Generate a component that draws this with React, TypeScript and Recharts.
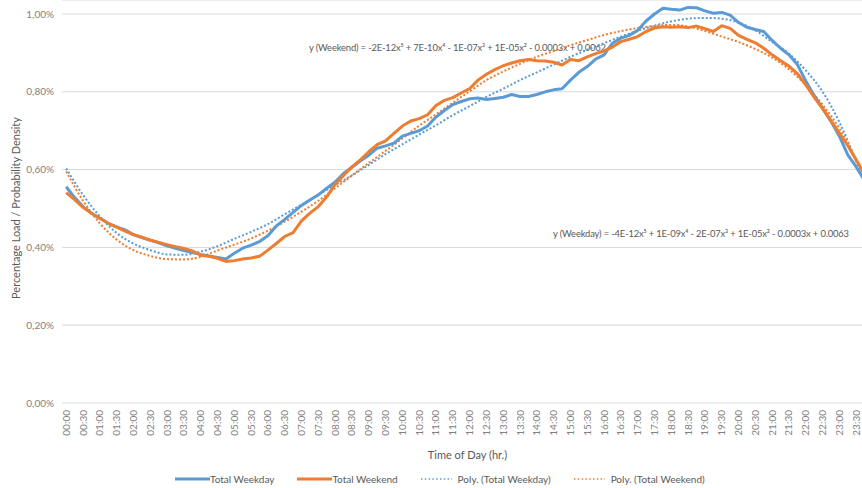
import { CartesianGrid, Customized, Line, LineChart, XAxis, YAxis } from 'recharts';

// 15-minute readings, % of daily load
const weekday = [
  0.556, 0.528, 0.505, 0.488, 0.475, 0.462, 0.453, 0.445, 0.433, 0.425, 0.418, 0.412,
  0.404, 0.398, 0.392, 0.387, 0.382, 0.378, 0.374, 0.37, 0.385, 0.398, 0.406, 0.415,
  0.43, 0.455, 0.472, 0.49, 0.508, 0.522, 0.535, 0.552, 0.568, 0.59, 0.606, 0.622,
  0.637, 0.655, 0.661, 0.668, 0.686, 0.693, 0.7, 0.712, 0.735, 0.752, 0.767, 0.775,
  0.782, 0.784, 0.78, 0.783, 0.786, 0.793, 0.788, 0.788, 0.793, 0.8, 0.805, 0.808,
  0.83, 0.85, 0.865, 0.884, 0.895, 0.925, 0.938, 0.945, 0.958, 0.982, 1.0, 1.015,
  1.012, 1.01, 1.017, 1.016, 1.008, 1.002, 1.004, 0.997, 0.978, 0.966, 0.96, 0.955,
  0.932, 0.912, 0.895, 0.87, 0.828, 0.79, 0.758, 0.724, 0.686, 0.638, 0.607, 0.572,
];

const weekend = [
  0.541, 0.523, 0.503, 0.488, 0.475, 0.462, 0.452, 0.442, 0.433, 0.426, 0.419, 0.413,
  0.407, 0.402, 0.397, 0.391, 0.38, 0.377, 0.372, 0.364, 0.366, 0.37, 0.373, 0.377,
  0.393, 0.41, 0.428, 0.438, 0.468, 0.488, 0.505, 0.53, 0.562, 0.585, 0.607, 0.625,
  0.646, 0.664, 0.674, 0.693, 0.712, 0.725, 0.731, 0.741, 0.765, 0.778, 0.785, 0.797,
  0.808, 0.83, 0.845, 0.857, 0.867, 0.874, 0.88, 0.883, 0.88, 0.879, 0.876, 0.869,
  0.883, 0.88, 0.89, 0.898, 0.905, 0.915, 0.929, 0.935, 0.942, 0.955, 0.964, 0.967,
  0.966, 0.967, 0.965, 0.969, 0.962, 0.955, 0.97, 0.963, 0.945, 0.935, 0.926, 0.912,
  0.895, 0.88, 0.866, 0.847, 0.818, 0.786, 0.757, 0.726, 0.694, 0.662, 0.625, 0.588,
];

// polynomial trendlines, read every 30 minutes
const weekdayPoly = [
  0.603, 0.535, 0.48, 0.437, 0.41, 0.393, 0.382, 0.381, 0.389, 0.403, 0.422, 0.44,
  0.46, 0.485, 0.51, 0.535, 0.56, 0.585, 0.612, 0.64, 0.665, 0.69, 0.714, 0.74,
  0.763, 0.787, 0.808, 0.83, 0.85, 0.87, 0.89, 0.908, 0.925, 0.942, 0.957, 0.97,
  0.981, 0.988, 0.99, 0.988, 0.978, 0.958, 0.928, 0.898, 0.855, 0.8, 0.722, 0.62, 0.5,
];

const weekendPoly = [
  0.595, 0.52, 0.462, 0.42, 0.393, 0.378, 0.37, 0.369, 0.376, 0.392, 0.407, 0.423,
  0.443, 0.466, 0.492, 0.52, 0.552, 0.585, 0.617, 0.648, 0.68, 0.713, 0.742, 0.772,
  0.801, 0.83, 0.852, 0.872, 0.89, 0.905, 0.92, 0.933, 0.946, 0.956, 0.964, 0.969,
  0.972, 0.968, 0.956, 0.942, 0.928, 0.91, 0.888, 0.858, 0.817, 0.767, 0.706, 0.626, 0.53,
];

const timeLabels = [
  '00:00', '00:30', '01:00', '01:30', '02:00', '02:30', '03:00', '03:30',
  '04:00', '04:30', '05:00', '05:30', '06:00', '06:30', '07:00', '07:30',
  '08:00', '08:30', '09:00', '09:30', '10:00', '10:30', '11:00', '11:30',
  '12:00', '12:30', '13:00', '13:30', '14:00', '14:30', '15:00', '15:30',
  '16:00', '16:30', '17:00', '17:30', '18:00', '18:30', '19:00', '19:30',
  '20:00', '20:30', '21:00', '21:30', '22:00', '22:30', '23:00', '23:30',
];

const yTicks = [0, 0.2, 0.4, 0.6, 0.8, 1.0];

const weekdayEq = 'y (Weekday) = -4E-12x⁵ + 1E-09x⁴ - 2E-07x³ + 1E-05x² - 0.0003x + 0.0063';
const weekendEq = 'y (Weekend) = -2E-12x⁵ + 7E-10x⁴ - 1E-07x³ + 1E-05x² - 0.0003x + 0.0062';

const BLUE = '#5b9bd5';
const ORANGE = '#ed7d31';
const FONT = 'Lato, "Open Sans", sans-serif';

const weekdayData = weekday.map((v, i) => ({ t: i * 15, v }));
const weekendData = weekend.map((v, i) => ({ t: i * 15, v }));
const weekdayPolyData = weekdayPoly.map((v, i) => ({ t: i * 30, v }));
const weekendPolyData = weekendPoly.map((v, i) => ({ t: i * 30, v }));
const tickMinutes = timeLabels.map((_, i) => i * 30);

const TimeTick = (props: any) => {
  const { x, y, payload } = props;
  return (
    <text
      x={x}
      y={y}
      dy='0.35em'
      transform={`rotate(-90 ${x} ${y})`}
      textAnchor='end'
      fontSize={10}
      fill='#7f7f7f'
      fontFamily={FONT}
    >
      {timeLabels[payload.value / 30]}
    </text>
  );
};

const Equations = () => (
  <g fontFamily={FONT} fontSize={9.4} fill='#595959' letterSpacing={-0.15}>
    <text x={309} y={51}>
      {weekendEq}
    </text>
    <text x={553} y={237}>
      {weekdayEq}
    </text>
  </g>
);

const legendItems = [
  { name: 'Total Weekday', color: BLUE, dotted: false },
  { name: 'Total Weekend', color: ORANGE, dotted: false },
  { name: 'Poly. (Total Weekday)', color: BLUE, dotted: true },
  { name: 'Poly. (Total Weekend)', color: ORANGE, dotted: true },
];

export default function App() {
  return (
    <div
      style={{
        position: 'relative',
        width: 862,
        height: 488,
        overflow: 'hidden',
        background: '#fff',
        fontFamily: FONT,
      }}
    >
      <style>{'html, body { margin: 0; padding: 0; overflow: hidden; }'}</style>
      <LineChart width={875} height={488} margin={{ top: 0, right: 2, bottom: 25, left: 0 }}>
        <CartesianGrid vertical={false} stroke='#d9d9d9' />
        <XAxis
          type='number'
          dataKey='t'
          domain={[-7.5, 1440]}
          allowDataOverflow
          ticks={tickMinutes}
          interval={0}
          axisLine={false}
          tickLine={false}
          tickSize={0}
          tickMargin={7}
          height={60}
          tick={<TimeTick />}
          label={{
            value: 'Time of Day (hr.)',
            position: 'insideBottom',
            offset: 4,
            fontSize: 11,
            fill: '#595959',
            fontFamily: FONT,
          }}
        />
        <YAxis
          type='number'
          domain={[0, 1.036]}
          allowDataOverflow
          ticks={yTicks}
          width={62}
          axisLine={false}
          tickLine={false}
          tickSize={8}
          tickMargin={0}
          tick={{ fontSize: 10, fill: '#7f7f7f', fontFamily: FONT }}
          tickFormatter={(v: number) => `${v.toFixed(2).replace('.', ',')}%`}
          label={{
            content: () => (
              <text
                x={15}
                y={208}
                transform='rotate(-90 15 208)'
                textAnchor='middle'
                dominantBaseline='central'
                fontSize={11}
                fill='#595959'
                fontFamily={FONT}
              >
                Percentage Load / Probability Density
              </text>
            ),
          }}
        />
        <Line
          data={weekdayPolyData}
          dataKey='v'
          type='monotone'
          stroke={BLUE}
          strokeWidth={2}
          strokeDasharray='2 2'
          dot={false}
          isAnimationActive={false}
        />
        <Line
          data={weekendPolyData}
          dataKey='v'
          type='monotone'
          stroke={ORANGE}
          strokeWidth={2}
          strokeDasharray='2 2'
          dot={false}
          isAnimationActive={false}
        />
        <Line
          data={weekdayData}
          dataKey='v'
          type='linear'
          stroke={BLUE}
          strokeWidth={3}
          strokeLinejoin='round'
          dot={false}
          isAnimationActive={false}
        />
        <Line
          data={weekendData}
          dataKey='v'
          type='linear'
          stroke={ORANGE}
          strokeWidth={3}
          strokeLinejoin='round'
          dot={false}
          isAnimationActive={false}
        />
        <Customized component={<Equations />} />
      </LineChart>
      <div
        style={{
          position: 'absolute',
          top: 471,
          left: 175,
          display: 'flex',
          alignItems: 'center',
          gap: 23,
          fontSize: 10,
          lineHeight: '16px',
          color: '#595959',
          whiteSpace: 'nowrap',
        }}
      >
        {legendItems.map((it) => (
          <div key={it.name} style={{ display: 'flex', alignItems: 'center' }}>
            <svg width={it.dotted ? 37 : 35} height={6}>
              <line
                x1={0}
                y1={3}
                x2={it.dotted ? 31 : 35}
                y2={3}
                stroke={it.color}
                strokeWidth={it.dotted ? 1.5 : 3}
                strokeDasharray={it.dotted ? '1.5 2.3' : undefined}
              />
            </svg>
            <span>{it.name}</span>
          </div>
        ))}
      </div>
    </div>
  );
}
